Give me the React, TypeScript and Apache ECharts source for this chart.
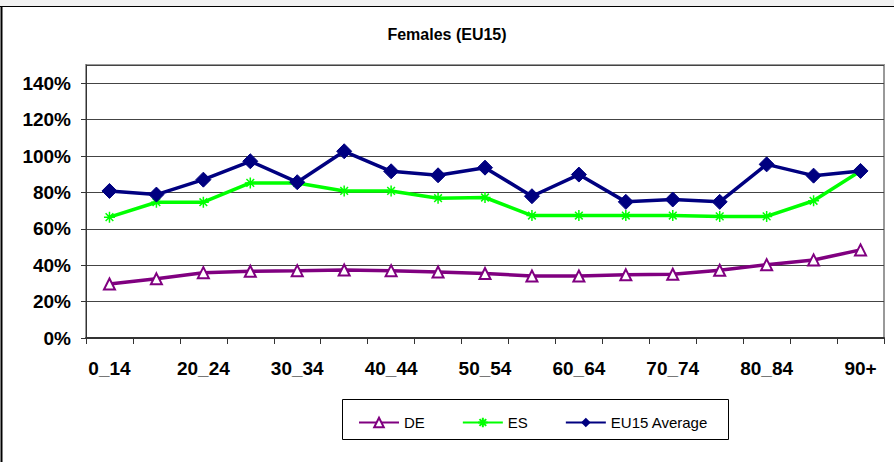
import React, { useEffect, useRef } from "react";
import * as echarts from "echarts";

const categories = ["0_14", "15_19", "20_24", "25_29", "30_34", "35_39", "40_44", "45_49", "50_54", "55_59", "60_64", "65_69", "70_74", "75_79", "80_84", "85_89", "90+"];
const deValues = [29.7, 32.5, 35.9, 36.7, 37.0, 37.4, 37.0, 36.3, 35.4, 34.1, 34.1, 34.7, 35.0, 37.2, 40.3, 42.9, 48.4];
const esValues = [66.4, 74.6, 74.6, 85.2, 85.2, 80.8, 80.8, 76.8, 77.2, 67.3, 67.3, 67.3, 67.3, 66.8, 66.8, 75.4, 91.8];
const eu15Values = [80.8, 78.8, 87.0, 97.1, 85.6, 102.6, 91.6, 89.4, 93.6, 77.9, 89.8, 74.8, 76.1, 74.8, 95.4, 89.2, 91.8];
const yTicks = [0, 20, 40, 60, 80, 100, 120, 140];

const asterisk = "path://M0,5 L10,5 M5,0 L5,10 M1.5,1.5 L8.5,8.5 M8.5,1.5 L1.5,8.5";

export default function App() {
  const ref = useRef<HTMLDivElement>(null);
  useEffect(() => {
    document.body.style.margin = "0";
    const chart = echarts.init(ref.current!, null, { renderer: "svg" });
    chart.setOption({
      animation: false,
      backgroundColor: "#ffffff",
      textStyle: { fontFamily: "Liberation Sans, Arial, sans-serif" },
      title: {
        text: "Females (EU15)",
        left: "center",
        top: 21,
        textStyle: { fontSize: 16, fontWeight: "bold", color: "#000" },
      },
      graphic: [
        { type: "rect", shape: { x: 0, y: 0, width: 894, height: 6 }, style: { fill: "#f2f2f2" }, silent: true },
        { type: "line", shape: { x1: 0, y1: 6.5, x2: 894, y2: 6.5 }, style: { stroke: "#000", lineWidth: 1 }, silent: true },
        { type: "line", shape: { x1: 1.5, y1: 6, x2: 1.5, y2: 462 }, style: { stroke: "#000", lineWidth: 2 }, silent: true },
        { type: "rect", shape: { x: 342.5, y: 399.5, width: 386, height: 40 }, style: { fill: "none", stroke: "#000", lineWidth: 1 }, silent: true },
      ],
      legend: {
        left: 353,
        top: 410,
        itemWidth: 40,
        itemHeight: 12,
        itemGap: 37,
        textStyle: { fontSize: 15, color: "#000" },
        data: ["DE", "ES", "EU15 Average"],
      },
      grid: {
        left: 86,
        top: 65,
        right: 10,
        bottom: 124,
        show: true,
        borderColor: "#999",
        borderWidth: 2,
        backgroundColor: "transparent",
      },
      xAxis: {
        type: "category",
        data: categories,
        boundaryGap: true,
        axisLine: { lineStyle: { color: "#333", width: 2 } },
        axisTick: { show: true, alignWithLabel: false, interval: 0, length: 6, lineStyle: { color: "#333" } },
        axisLabel: { interval: 1, fontSize: 19, fontWeight: "bold", color: "#000", margin: 21 },
      },
      yAxis: {
        type: "value",
        min: 0,
        max: 150,
        interval: 20,
        axisLine: { show: true, lineStyle: { color: "#333", width: 1 } },
        axisTick: { show: true, length: 5, lineStyle: { color: "#333" } },
        splitLine: { lineStyle: { color: "#444", width: 1 } },
        axisLabel: {
          fontSize: 19,
          fontWeight: "bold",
          color: "#000",
          margin: 15,
          showMaxLabel: false,
          formatter: (v: number) => (yTicks.includes(v) ? v + "%" : ""),
        },
      },
      series: [
        {
          name: "DE",
          type: "line",
          data: deValues,
          symbol: "triangle",
          symbolSize: 11,
          lineStyle: { color: "#800080", width: 3.5 },
          itemStyle: { color: "#ffffff", borderColor: "#800080", borderWidth: 2 },
        },
        {
          name: "ES",
          type: "line",
          data: esValues,
          symbol: asterisk,
          symbolSize: 11,
          lineStyle: { color: "#00ff00", width: 3.5 },
          itemStyle: { color: "#00ff00", borderColor: "#00ff00", borderWidth: 1.5 },
        },
        {
          name: "EU15 Average",
          type: "line",
          data: eu15Values,
          symbol: "diamond",
          symbolSize: 15,
          lineStyle: { color: "#000080", width: 3.5 },
          itemStyle: { color: "#000080", borderColor: "#000080" },
        },
      ],
    });
    return () => chart.dispose();
  }, []);
  return <div ref={ref} style={{ width: 894, height: 462, position: "absolute", left: 0, top: 0 }} />;
}
